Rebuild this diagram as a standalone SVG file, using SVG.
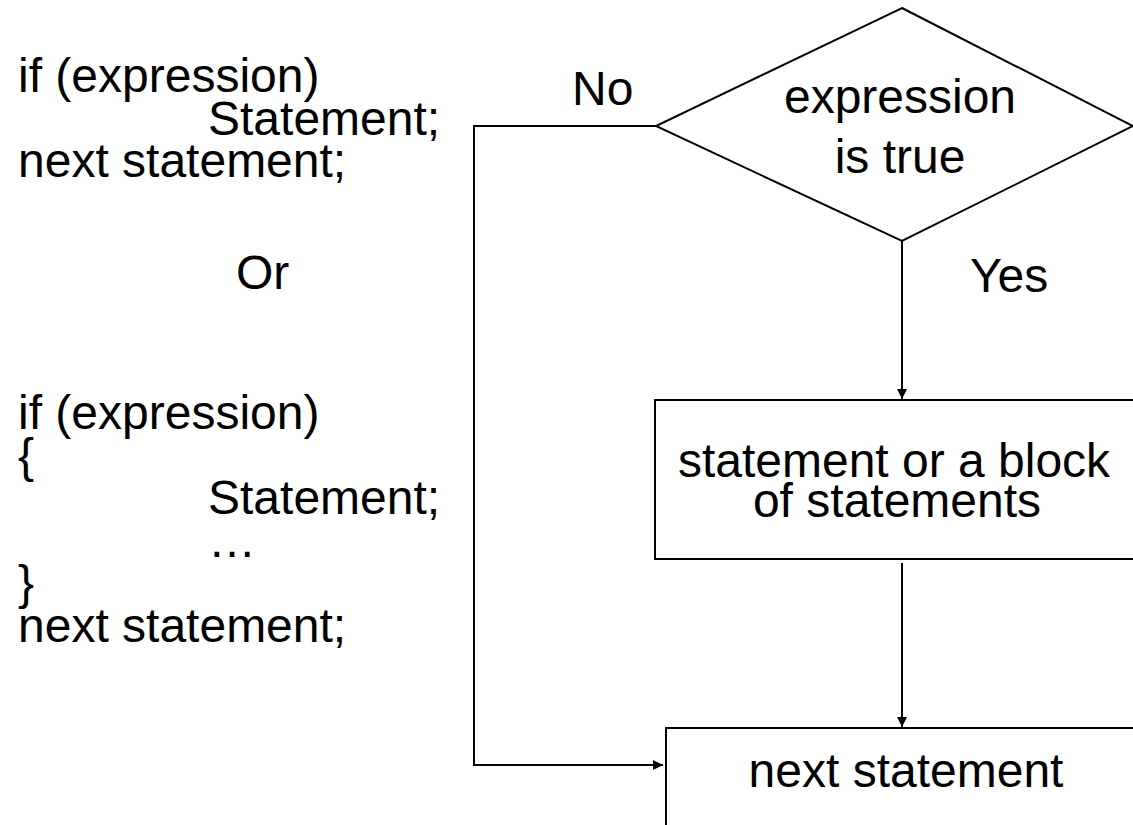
<svg xmlns="http://www.w3.org/2000/svg" width="1133" height="825" viewBox="0 0 1133 825">
<defs>
<marker id="arr" viewBox="0 0 10 10" refX="10" refY="5" markerWidth="10" markerHeight="10" markerUnits="userSpaceOnUse" orient="auto">
<path d="M0,0 L10,5 L0,10 z" fill="#000"/>
</marker>
<style>
text{font-family:"Liberation Sans",Arial,sans-serif;font-size:48px;fill:#000}
.mid{text-anchor:middle}
.shape{fill:#fff;stroke:#000;stroke-width:2}
.conn{fill:none;stroke:#000;stroke-width:2}
</style>
</defs>
<rect width="1133" height="825" fill="#fff"/>
<g id="code">
<text x="18" y="92">if (expression)</text>
<text x="208" y="135">Statement;</text>
<text x="18" y="177">next statement;</text>
<text x="236" y="289">Or</text>
<text x="18" y="429">if (expression)</text>
<text x="18" y="472">{</text>
<text x="208" y="514">Statement;</text>
<text x="208" y="557">…</text>
<text x="18" y="599">}</text>
<text x="18" y="642">next statement;</text>
</g>
<g id="connectors">
<polyline class="conn" points="656,126 474,126 474,765 663,765" marker-end="url(#arr)"/>
<line class="conn" x1="902" y1="241" x2="902" y2="399" marker-end="url(#arr)"/>
<line class="conn" x1="902" y1="563" x2="902" y2="727" marker-end="url(#arr)"/>
<text x="572" y="105">No</text>
<text x="970" y="292">Yes</text>
</g>
<g id="decision">
<polygon class="shape" points="902,8 1133,126 902,241 656,126"/>
<text class="mid" x="900" y="113">expression</text>
<text class="mid" x="900" y="173">is true</text>
</g>
<g id="block">
<rect class="shape" x="655" y="400" width="490" height="159"/>
<text class="mid" x="894" y="477">statement or a block</text>
<text class="mid" x="897" y="517">of statements</text>
</g>
<g id="next">
<rect class="shape" x="666" y="728" width="490" height="130"/>
<text class="mid" x="906" y="787">next statement</text>
</g>
</svg>
